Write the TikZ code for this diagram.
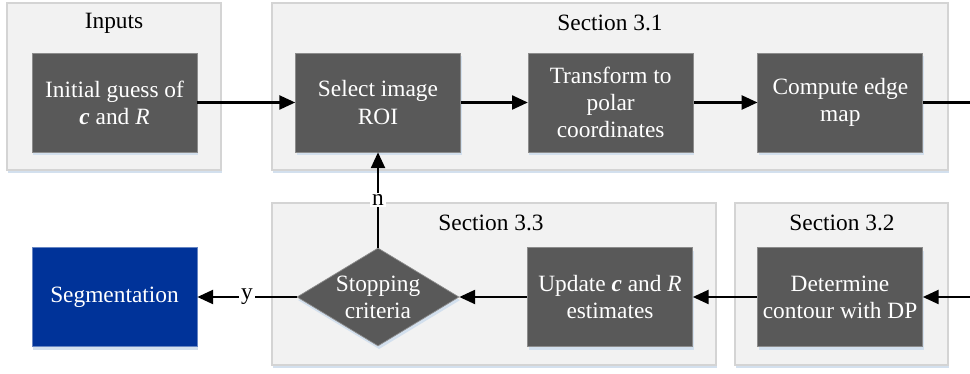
\documentclass[tikz,border=0pt]{standalone}
\usepackage{fontspec}
\setmainfont{Liberation Serif}
\usetikzlibrary{positioning,shapes.geometric,shadows,arrows.meta}

\definecolor{boxgray}{HTML}{595959}
\definecolor{boxline}{HTML}{8C8C8C}
\definecolor{groupfill}{HTML}{F2F2F2}
\definecolor{groupline}{HTML}{D4D4D4}
\definecolor{shadowblue}{HTML}{D3E0EE}
\definecolor{segblue}{HTML}{003399}

\tikzset{
    myshadow/.style={drop shadow={shadow xshift=0.6pt,shadow yshift=-1.8pt,fill=shadowblue,opacity=1}},
    group/.style={draw=groupline,fill=groupfill,line width=0.6pt,myshadow},
    grouptitle/.style={inner sep=1pt},
    stepbox/.style={draw=boxline,fill=boxgray,text=white,align=center,
        minimum width=3.3cm,minimum height=1.98cm,inner sep=2pt,myshadow},
    flow/.style={line width=1.2pt,-{Triangle[length=9pt,width=8pt]}},
    flowlabel/.style={fill=white,inner sep=1pt,midway}
}

\begin{document}
\begin{tikzpicture}[x=0.02cm,y=-0.02cm,font=\fontsize{13.3}{15.4}\selectfont]
        \useasboundingbox (0,0) rectangle (970,374);

        % Groups
        \draw[group] (7,3) rectangle (221,170);
        \draw[group] (272,3) rectangle (948,170);
        \draw[group] (272,203) rectangle (716,365);
        \draw[group] (735,203) rectangle (948,365);
        \node[grouptitle] (tinputs) at (114,23) {Inputs};
        \node[grouptitle] (tsecA) at (610,23) {Section 3.1};
        \node[grouptitle] (tsecC) at (491,223) {Section 3.3};
        \node[grouptitle] (tsecB) at (842,223) {Section 3.2};

        % Top row
        \node[stepbox] (guess) at (114.5,102.5) {Initial guess of\\\textbf{\textit{c}} and \textit{R}};
        \node[stepbox] (roi) at (378,102.5) {Select image\\ROI};
        \node[stepbox,right=1.34cm of roi] (polar) {Transform to\\polar\\coordinates};
        \node[stepbox,right=1.28cm of polar] (edge) {Compute edge\\map};
        \coordinate (edgeout) at (970,102.5);

        % Bottom row
        \node[stepbox,fill=segblue,draw=segblue!60!white] (seg) at (114.5,297) {Segmentation};
        \node[diamond,draw=boxline,fill=boxgray,text=white,align=center,
              minimum width=3.24cm,minimum height=1.96cm,aspect=1.65,inner sep=0pt,myshadow]
              (stop) at (378,297) {Stopping\\criteria};
        \node[stepbox] (update) at (610,297) {Update \textbf{\textit{c}} and \textit{R}\\estimates};
        \node[stepbox] (contour) at (840,297) {Determine\\contour with DP};
        \coordinate (contourin) at (970,297);

        % Arrows
        \draw[flow] (guess) -- (roi);
        \draw[flow] (roi) -- (polar);
        \draw[flow] (polar) -- (edge);
        \draw[line width=1.2pt] (edge) -- (edgeout);
        \draw[flow] (contourin) -- (contour);
        \draw[flow] (contour) -- (update);
        \draw[flow] (update) -- (stop);
        \draw[flow] (stop) -- (seg) node[flowlabel] {y};
        \draw[flow] (stop) -- (roi) node[flowlabel] {n};

    \end{tikzpicture}
\end{document}
